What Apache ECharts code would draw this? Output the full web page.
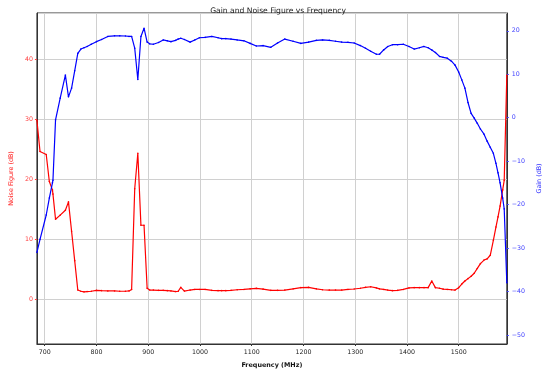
<!DOCTYPE html>
<html>
<head>
<meta charset="utf-8">
<script src="https://cdn.jsdelivr.net/npm/echarts@6/dist/echarts.min.js"></script>
<style>
  html, body { margin: 0; padding: 0; background: #fff; }
  #chart { width: 550px; height: 373px; }
</style>
</head>
<body>
<div id="chart"></div>
<script>
// frequency points (MHz)
var freqMHz = [685, 691, 703, 709, 715, 716, 721, 730, 740, 746, 752, 758, 764, 770, 776, 782, 790, 800, 810, 822,
  835, 845, 856, 863, 868, 874, 880, 886, 892, 898, 903, 910, 920, 929, 937, 944, 953, 958, 963, 970,
  981, 990, 999, 1010, 1023, 1035, 1042, 1050, 1060, 1072, 1085, 1097, 1109, 1122, 1137, 1150, 1164, 1180, 1195, 1210,
  1225, 1237, 1250, 1262, 1274, 1286, 1298, 1310, 1320, 1330, 1341, 1347, 1355, 1363, 1372, 1382, 1393, 1404, 1414, 1424,
  1433, 1441, 1448, 1455, 1463, 1470, 1478, 1486, 1493, 1500, 1506, 1512, 1518, 1524, 1530, 1536, 1542, 1549, 1555, 1561,
  1567, 1572, 1576, 1580, 1585, 1588, 1593];

// gain (dB), right axis
var gainDb = [-31, -28, -22.4, -18.5, -15, -14.4, -0.5, 4.5, 9.8, 4.8, 6.8, 10.8, 14.8, 15.8, 16.1, 16.4, 16.9, 17.5, 18.0, 18.7,
  18.85, 18.85, 18.8, 18.7, 18.7, 16.0, 8.8, 18.7, 20.6, 17.4, 17.0, 16.9, 17.3, 17.9, 17.7, 17.5, 17.8, 18.1, 18.3, 18.0,
  17.4, 17.9, 18.4, 18.5, 18.7, 18.4, 18.2, 18.2, 18.1, 17.9, 17.7, 17.1, 16.5, 16.6, 16.2, 17.2, 18.1, 17.6, 17.1, 17.4,
  17.8, 17.9, 17.8, 17.6, 17.4, 17.35, 17.2, 16.6, 16.0, 15.3, 14.6, 14.6, 15.6, 16.4, 16.8, 16.8, 16.9, 16.4, 15.8, 16.1,
  16.4, 16.1, 15.6, 15.0, 14.1, 13.9, 13.7, 13.0, 12.1, 10.5, 8.7, 6.8, 3.5, 1.0, -0.1, -1.3, -2.6, -3.8, -5.4, -6.8,
  -8.2, -10.5, -12.7, -15, -18.5, -21, -38];

// noise figure (dB), left axis
var noiseFigureDb = [29.8, 24.6, 24.1, 19.6, 18.2, 17.5, 13.3, 14.0, 14.8, 16.2, 11.3, 6.4, 1.5, 1.3, 1.2, 1.25, 1.3, 1.45, 1.4, 1.35,
  1.35, 1.3, 1.3, 1.35, 1.6, 18.4, 24.3, 12.3, 12.3, 1.8, 1.5, 1.5, 1.45, 1.45, 1.4, 1.35, 1.25, 1.3, 1.95, 1.33,
  1.5, 1.6, 1.6, 1.6, 1.45, 1.4, 1.4, 1.4, 1.45, 1.55, 1.6, 1.7, 1.78, 1.65, 1.45, 1.45, 1.5, 1.7, 1.9, 1.94,
  1.7, 1.55, 1.5, 1.5, 1.5, 1.6, 1.67, 1.8, 1.95, 2.05, 1.85, 1.7, 1.6, 1.5, 1.4, 1.45, 1.6, 1.85, 1.9, 1.9,
  1.9, 1.9, 3.0, 1.9, 1.8, 1.65, 1.6, 1.55, 1.5, 1.9, 2.5, 3.0, 3.4, 3.8, 4.3, 5.1, 5.9, 6.5, 6.7, 7.3,
  9.8, 12.0, 13.7, 15.5, 18.2, 19.8, 37.3];

var FONT = 'DejaVu Sans';

function minusSign(v) {
    return String(v).replace('-', '\u2212');
}

var chart = echarts.init(document.getElementById('chart'));

var option = {
    animation: false,
    backgroundColor: '#fff',
    title: {
        text: 'Gain and Noise Figure vs Frequency',
        left: 273, top: 2,
        textAlign: 'center',
        textStyle: { fontFamily: FONT, fontSize: 7.6, fontWeight: 'normal', color: '#222' }
    },
    grid: {
        left: 25, right: 29, top: 13, bottom: 29,
        show: true, borderColor: '#333', borderWidth: 1
    },
    xAxis: {
        type: 'value',
        min: 685, max: 1593,
        splitNumber: 9,
        name: 'Frequency (MHz)',
        nameLocation: 'middle',
        nameGap: 18,
        nameTextStyle: { fontFamily: FONT, fontSize: 6.4, fontWeight: 'bold', color: '#111' },
        axisLine: { show: true, onZero: false, lineStyle: { color: '#333', width: 1 } },
        axisTick: { show: true, length: 2, lineStyle: { color: '#333' } },
        axisLabel: {
            fontFamily: FONT, fontSize: 6.3, color: '#222', margin: 5,
            showMinLabel: false, showMaxLabel: false,
            formatter: function (v) { return String(v); }
        },
        splitLine: { show: true, lineStyle: { color: '#d0d0d0', width: 1 } }
    },
    yAxis: [
        {
            type: 'value',
            position: 'left',
            min: -7.5, max: 47.7,
            splitNumber: 5,
            name: 'Noise Figure (dB)',
            nameLocation: 'middle',
            nameRotate: 90,
            nameGap: 15,
            nameTextStyle: { fontFamily: FONT, fontSize: 6.4, color: '#ff2020' },
            axisLine: { show: true, onZero: false, lineStyle: { color: '#333', width: 1 } },
            axisTick: { show: true, length: 2, lineStyle: { color: '#ff4040' } },
            axisLabel: {
                fontFamily: FONT, fontSize: 6.3, color: '#ff4040', margin: 4,
                showMinLabel: false, showMaxLabel: false,
                formatter: minusSign
            },
            splitLine: { show: true, lineStyle: { color: '#d0d0d0', width: 1 } }
        },
        {
            type: 'value',
            position: 'right',
            min: -52.1, max: 24.1,
            splitNumber: 8,
            name: 'Gain (dB)',
            nameLocation: 'middle',
            nameRotate: 90,
            nameGap: 20,
            nameTextStyle: { fontFamily: FONT, fontSize: 6.4, color: '#3030ff' },
            axisLine: { show: true, onZero: false, lineStyle: { color: '#333', width: 1 } },
            axisTick: { show: true, length: 2, lineStyle: { color: '#4040ff' } },
            axisLabel: {
                fontFamily: FONT, fontSize: 6.3, color: '#4040ff', margin: 5,
                showMinLabel: false, showMaxLabel: false,
                formatter: minusSign
            },
            splitLine: { show: false }
        }
    ],
    series: [
        {
            name: 'Noise Figure',
            type: 'line',
            yAxisIndex: 0,
            data: freqMHz.map(function (f, i) { return [f, noiseFigureDb[i]]; }),
            symbol: 'circle',
            symbolSize: 1.6,
            itemStyle: { color: '#ff0000' },
            lineStyle: { color: '#ff0000', width: 1.2 }
        },
        {
            name: 'Gain',
            type: 'line',
            yAxisIndex: 1,
            data: freqMHz.map(function (f, i) { return [f, gainDb[i]]; }),
            symbol: 'circle',
            symbolSize: 1.6,
            itemStyle: { color: '#0000ff' },
            lineStyle: { color: '#0000ff', width: 1.2 }
        }
    ]
};

chart.setOption(option);
</script>
</body>
</html>
